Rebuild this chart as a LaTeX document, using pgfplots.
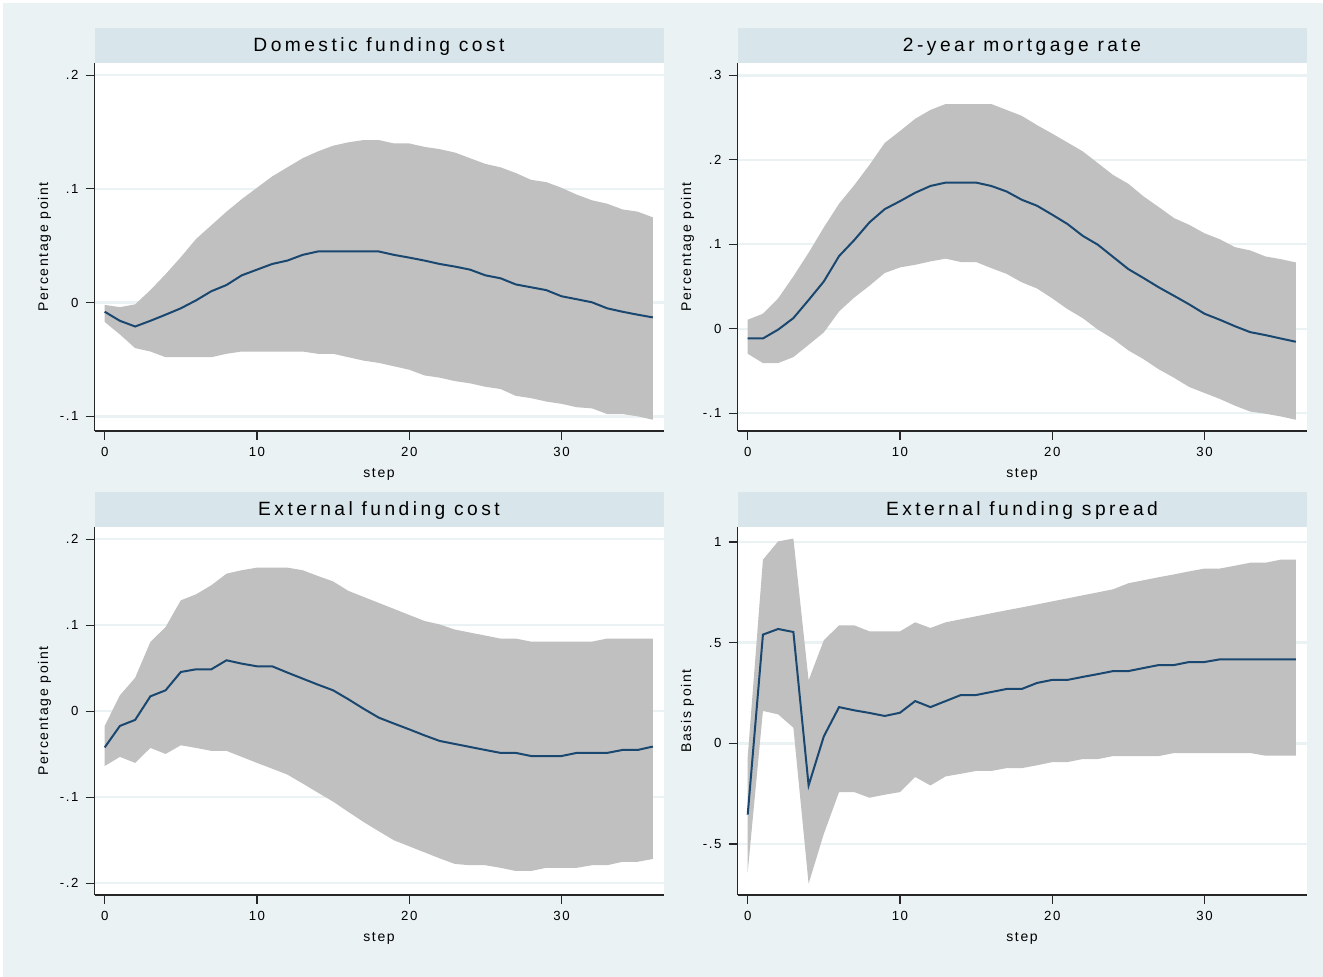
\documentclass[border=0pt]{standalone}
\usepackage{fontspec}
\setmainfont{Liberation Sans}[LetterSpace=12]
\usepackage{xcolor}
\usepackage{pgfplots}
\pgfplotsset{compat=1.18}
\usepgfplotslibrary{fillbetween}
\usepackage{pgfplotstable}

\definecolor{bgc}{RGB}{234,242,243}
\definecolor{bandc}{RGB}{216,229,234}
\definecolor{linec}{RGB}{26,71,111}
\definecolor{cic}{RGB}{192,192,192}
\pagecolor{bgc}

\pgfplotstableread{
x lo mid hi
0 -0.017 -0.008 -0.002
1 -0.028 -0.016 -0.004
2 -0.040 -0.021 -0.0015
3 -0.043 -0.016 0.011
4 -0.048 -0.0106 0.025
5 -0.048 -0.005 0.040
6 -0.048 0.002 0.056
7 -0.048 0.010 0.068
8 -0.045 0.0155 0.080
9 -0.043 0.024 0.091
10 -0.043 0.029 0.101
11 -0.043 0.034 0.111
12 -0.043 0.037 0.119
13 -0.043 0.042 0.127
14 -0.045 0.045 0.133
15 -0.045 0.045 0.138
16 -0.048 0.045 0.141
17 -0.051 0.045 0.143
18 -0.053 0.045 0.143
19 -0.056 0.042 0.140
20 -0.059 0.0396 0.140
21 -0.064 0.037 0.137
22 -0.066 0.034 0.135
23 -0.069 0.0317 0.132
24 -0.071 0.029 0.127
25 -0.074 0.024 0.122
26 -0.076 0.0214 0.119
27 -0.082 0.016 0.114
28 -0.084 0.0135 0.108
29 -0.087 0.011 0.106
30 -0.089 0.0056 0.101
31 -0.092 0.003 0.095
32 -0.093 0.0003 0.090
33 -0.098 -0.005 0.087
34 -0.098 -0.008 0.082
35 -0.100 -0.0106 0.080
36 -0.103 -0.013 0.075
}\tA

\pgfplotstableread{
x lo mid hi
0 -0.0296 -0.0115 0.0107
1 -0.0406 -0.0115 0.0178
2 -0.0406 -0.001 0.036
3 -0.0335 0.0126 0.062
4 -0.019 0.034 0.090
5 -0.0043 0.056 0.120
6 0.0205 0.086 0.148
7 0.037 0.105 0.170
8 0.051 0.126 0.194
9 0.066 0.1416 0.220
10 0.0726 0.151 0.234
11 0.0757 0.161 0.2485
12 0.0797 0.169 0.259
13 0.083 0.173 0.266
14 0.079 0.173 0.266
15 0.079 0.173 0.266
16 0.0718 0.169 0.266
17 0.065 0.1625 0.259
18 0.055 0.1527 0.252
19 0.0477 0.1456 0.241
20 0.036 0.135 0.231
21 0.0233 0.124 0.2205
22 0.0126 0.110 0.210
23 -0.001 0.0994 0.196
24 -0.012 0.085 0.182
25 -0.0256 0.0706 0.1716
26 -0.036 0.060 0.1566
27 -0.048 0.049 0.144
28 -0.058 0.039 0.131
29 -0.069 0.0288 0.123
30 -0.076 0.0178 0.113
31 -0.083 0.0107 0.106
32 -0.091 0.003 0.0966
33 -0.098 -0.004 0.0927
34 -0.1006 -0.0075 0.0856
35 -0.1037 -0.0115 0.0824
36 -0.1077 -0.0154 0.0785
}\tB

\pgfplotstableread{
x lo mid hi
0 -0.0636 -0.042 -0.017
1 -0.053 -0.017 0.0186
2 -0.060 -0.010 0.039
3 -0.0426 0.0174 0.0806
4 -0.0496 0.0244 0.098
5 -0.0395 0.0457 0.129
6 -0.0426 0.0488 0.136
7 -0.046 0.0488 0.1465
8 -0.046 0.0593 0.160
9 -0.053 0.0554 0.164
10 -0.060 0.0523 0.167
11 -0.0667 0.0523 0.167
12 -0.0736 0.045 0.167
13 -0.084 0.038 0.164
14 -0.0946 0.031 0.1573
15 -0.105 0.0244 0.151
16 -0.117 0.014 0.140
17 -0.1287 0.003 0.133
18 -0.1395 -0.0074 0.126
19 -0.150 -0.0143 0.119
20 -0.157 -0.021 0.112
21 -0.164 -0.028 0.105
22 -0.171 -0.0345 0.101
23 -0.1775 -0.038 0.095
24 -0.179 -0.0415 0.0915
25 -0.179 -0.045 0.088
26 -0.182 -0.0484 0.0845
27 -0.1857 -0.0484 0.0845
28 -0.1857 -0.052 0.081
29 -0.182 -0.052 0.081
30 -0.182 -0.052 0.081
31 -0.182 -0.0484 0.081
32 -0.179 -0.0484 0.081
33 -0.179 -0.0484 0.0845
34 -0.175 -0.045 0.0845
35 -0.175 -0.045 0.0845
36 -0.1717 -0.041 0.0845
}\tC

\pgfplotstableread{
x lo mid hi
0 -0.639 -0.354 -0.068
1 0.161 0.540 0.912
2 0.144 0.568 1.003
3 0.078 0.553 1.017
4 -0.697 -0.209 0.313
5 -0.449 0.035 0.512
6 -0.242 0.180 0.586
7 -0.242 0.164 0.586
8 -0.270 0.151 0.556
9 -0.255 0.136 0.556
10 -0.242 0.152 0.556
11 -0.167 0.210 0.601
12 -0.209 0.180 0.573
13 -0.164 0.210 0.601
14 -0.151 0.240 0.616
15 -0.137 0.240 0.631
16 -0.137 0.255 0.646
17 -0.123 0.270 0.661
18 -0.123 0.270 0.675
19 -0.109 0.300 0.690
20 -0.093 0.315 0.705
21 -0.093 0.315 0.720
22 -0.078 0.330 0.735
23 -0.078 0.344 0.750
24 -0.063 0.359 0.765
25 -0.063 0.359 0.795
26 -0.063 0.374 0.810
27 -0.063 0.389 0.825
28 -0.048 0.389 0.839
29 -0.048 0.404 0.854
30 -0.048 0.404 0.868
31 -0.048 0.417 0.868
32 -0.048 0.417 0.882
33 -0.048 0.417 0.897
34 -0.061 0.417 0.897
35 -0.061 0.417 0.912
36 -0.061 0.417 0.912
}\tD

\pgfplotsset{
  irf/.style={
    scale only axis, width=284.5pt, height=184pt,
    anchor=south west,
    xmin=-0.67, xmax=36.7,
    axis lines*=left,
    axis line style={line width=0.8pt, black!85},
    tick align=outside,
    major tick length=4.5pt,
    tick style={line width=0.55pt, black!85},
    xtick={0,10,20,30},
    ymajorgrids,
    grid style={bgc, line width=1.2pt},
    axis background/.style={fill=white},
    /pgf/number format/assume math mode=true,
    ticklabel style={font=\fontsize{6.6}{8}\selectfont},
    title style={at={(0.5,1)}, anchor=south, yshift=-6pt, fill=bandc,
      minimum width=284.5pt, minimum height=17.5pt, inner sep=0pt,
      text height=6.9pt, text depth=0pt,
      font=\fontsize{9.6}{11}\selectfont\addfontfeature{LetterSpace=18}},
    xlabel={step},
    xlabel style={at={(axis description cs:0.5,0)}, anchor=center, yshift=-21.5pt,
      font=\fontsize{7}{8}\selectfont},
    ylabel style={at={([xshift=-25pt]axis description cs:0,0.5)}, anchor=center,
      font=\fontsize{7}{8}\selectfont},
  }
}

\begin{document}
\begin{tikzpicture}
\path (0,0) rectangle (661.5pt,488.5pt);
\fill[white] (0,487pt) rectangle (661.5pt,488.5pt);
\fill[white] (0,0) rectangle (1.5pt,488.5pt);

% Panel 1
\begin{axis}[irf, at={(47.25pt,273pt)},
  ymin=-0.1129, ymax=0.2108,
  ytick={-0.1,0,0.1,0.2}, yticklabels={-.1,0,.1,.2},
  title={Domestic funding cost}, ylabel={Percentage point}]
\addplot[draw=none, name path=loA] table[x=x,y=lo]{\tA};
\addplot[draw=none, name path=hiA] table[x=x,y=hi]{\tA};
\addplot[fill=cic, draw=none] fill between[of=loA and hiA];
\addplot[linec, line width=1pt] table[x=x,y=mid]{\tA};
\end{axis}

% Panel 2
\begin{axis}[irf, at={(368.75pt,273pt)},
  ymin=-0.121, ymax=0.3146,
  ytick={-0.1,0,0.1,0.2,0.3}, yticklabels={-.1,0,.1,.2,.3},
  title={2-year mortgage rate}, ylabel={Percentage point}]
\addplot[draw=none, name path=loB] table[x=x,y=lo]{\tB};
\addplot[draw=none, name path=hiB] table[x=x,y=hi]{\tB};
\addplot[fill=cic, draw=none] fill between[of=loB and hiB];
\addplot[linec, line width=1pt] table[x=x,y=mid]{\tB};
\end{axis}

% Panel 3
\begin{axis}[irf, at={(47.25pt,41pt)},
  ymin=-0.2136, ymax=0.2143,
  ytick={-0.2,-0.1,0,0.1,0.2}, yticklabels={-.2,-.1,0,.1,.2},
  title={External funding cost}, ylabel={Percentage point}]
\addplot[draw=none, name path=loC] table[x=x,y=lo]{\tC};
\addplot[draw=none, name path=hiC] table[x=x,y=hi]{\tC};
\addplot[fill=cic, draw=none] fill between[of=loC and hiC];
\addplot[linec, line width=1pt] table[x=x,y=mid]{\tC};
\end{axis}

% Panel 4
\begin{axis}[irf, at={(368.75pt,41pt)},
  ymin=-0.753, ymax=1.0745,
  ytick={-0.5,0,0.5,1}, yticklabels={-.5,0,.5,1},
  title={External funding spread}, ylabel={Basis point}]
\addplot[draw=none, name path=loD] table[x=x,y=lo]{\tD};
\addplot[draw=none, name path=hiD] table[x=x,y=hi]{\tD};
\addplot[fill=cic, draw=none] fill between[of=loD and hiD];
\addplot[linec, line width=1pt] table[x=x,y=mid]{\tD};
\end{axis}
\end{tikzpicture}
\end{document}
